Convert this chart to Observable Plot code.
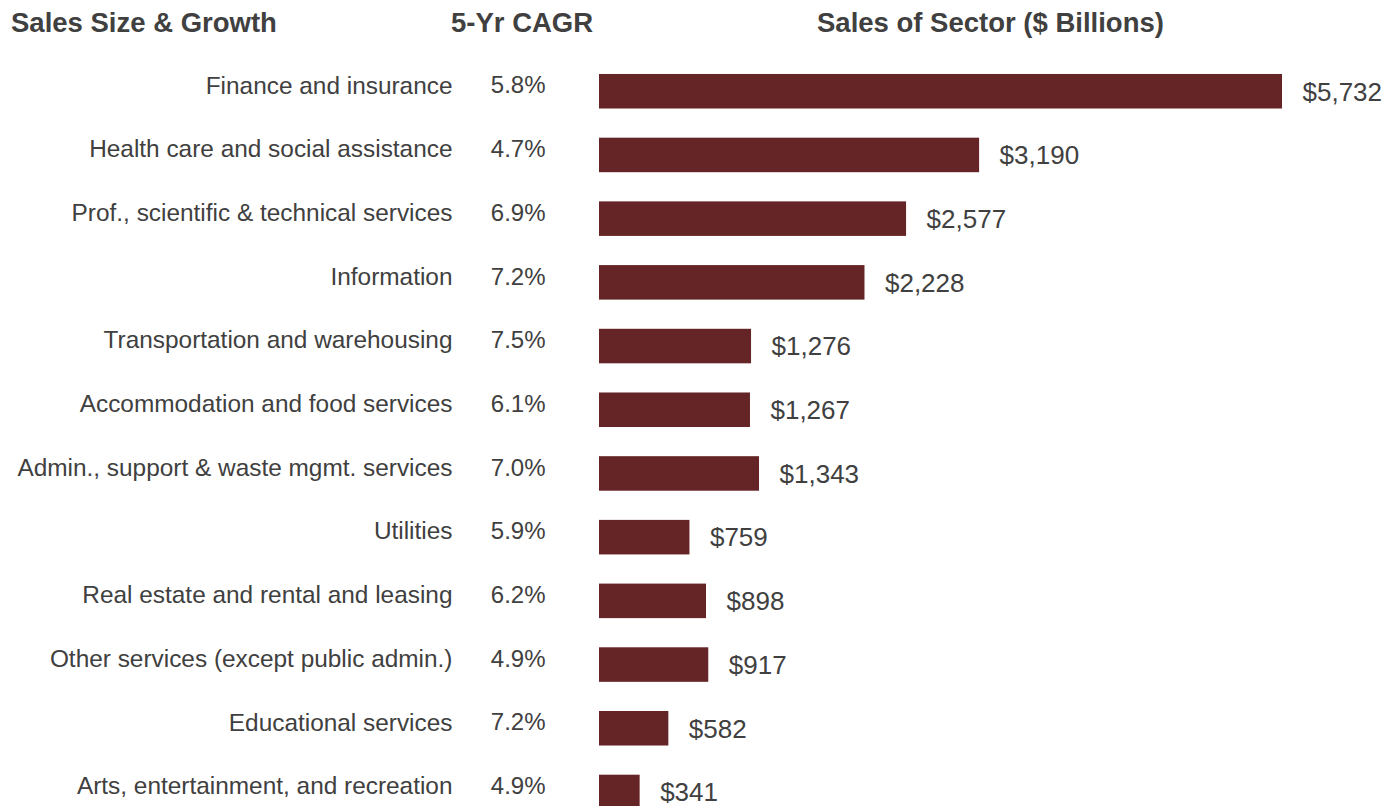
<!DOCTYPE html>
<html>
<head>
<meta charset="utf-8">
<script src="https://cdn.jsdelivr.net/npm/d3@7"></script>
<script src="https://cdn.jsdelivr.net/npm/@observablehq/plot@0.6"></script>
<style>
  html, body { margin: 0; padding: 0; background: #fff; }
  body { width: 1396px; height: 806px; overflow: hidden; font-family: "Liberation Sans", Arial, sans-serif; }
  #header { position: relative; height: 50px; color: #404040; font-weight: bold; font-size: 27.5px; }
  #header span { position: absolute; top: 9px; line-height: 27px; white-space: nowrap; }
  #chart svg { display: block; }
</style>
</head>
<body>
<div id="header"></div>
<div id="chart"></div>
<script>
const headers = ["Sales Size & Growth", "5-Yr CAGR", "Sales of Sector ($ Billions)"];
const headerLeft = [11, 451, 817];

const categories = [
  "Finance and insurance",
  "Health care and social assistance",
  "Prof., scientific & technical services",
  "Information",
  "Transportation and warehousing",
  "Accommodation and food services",
  "Admin., support & waste mgmt. services",
  "Utilities",
  "Real estate and rental and leasing",
  "Other services (except public admin.)",
  "Educational services",
  "Arts, entertainment, and recreation"
];
const cagr = [5.8, 4.7, 6.9, 7.2, 7.5, 6.1, 7.0, 5.9, 6.2, 4.9, 7.2, 4.9];
const sales = [5732, 3190, 2577, 2228, 1276, 1267, 1343, 759, 898, 917, 582, 341];

const header = document.getElementById("header");
headers.forEach((h, i) => {
  const s = document.createElement("span");
  s.textContent = h;
  s.style.left = headerLeft[i] + "px";
  header.appendChild(s);
});

const data = categories.map((c, i) => ({category: c, cagr: cagr[i], sales: sales[i]}));

const textColor = "#404040";
const barColor = "#652426";
const font = '"Liberation Sans", Arial, sans-serif';

const chart = Plot.plot({
  width: 1396,
  height: 756,
  margin: 0,
  style: {fontFamily: font, color: textColor, background: "#fff"},
  x: {domain: [0, d3.max(sales)], range: [599, 1282], axis: null},
  y: {domain: categories, range: [-5.2, 788.4], padding: 0.458, round: false, axis: null},
  marks: [
    Plot.barX(data, {x: "sales", y: "category", fill: barColor}),
    Plot.text(data, {
      y: "category", text: "category", frameAnchor: "left", dx: 452, dy: -6,
      textAnchor: "end", fontSize: 24.4, fill: textColor
    }),
    Plot.text(data, {
      y: "category", text: d => d.cagr.toFixed(1) + "%", frameAnchor: "left", dx: 545, dy: -6,
      textAnchor: "end", fontSize: 24, fill: textColor
    }),
    Plot.text(data, {
      x: "sales", y: "category", text: d => "$" + d3.format(",")(d.sales), dx: 20, dy: 0.5,
      textAnchor: "start", fontSize: 26, fill: textColor
    })
  ]
});
document.getElementById("chart").appendChild(chart);
</script>
</body>
</html>
